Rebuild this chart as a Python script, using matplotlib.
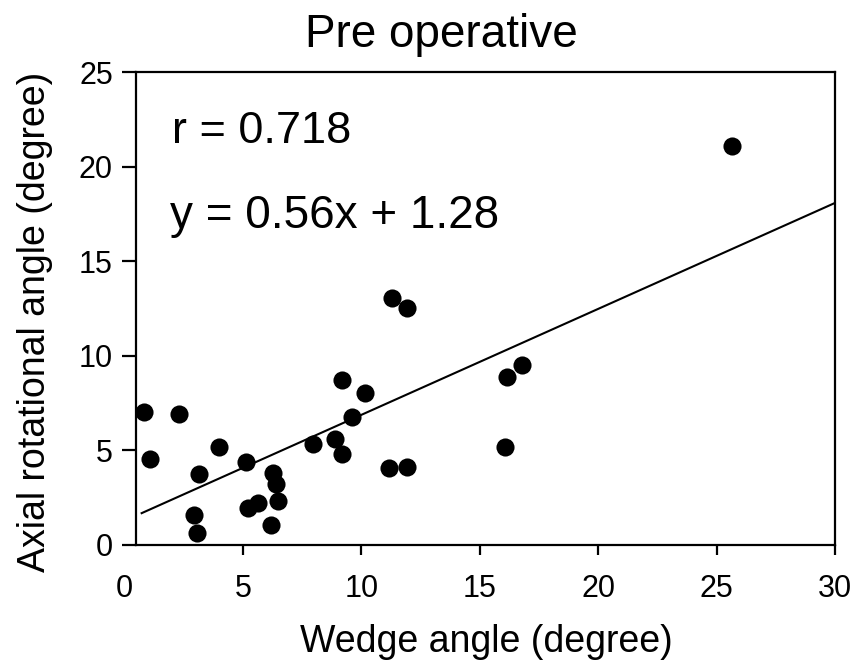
import numpy as np
import matplotlib.pyplot as plt

plt.rcParams['font.family'] = ['Liberation Sans', 'DejaVu Sans']

#- wedge angle vs axial rotational angle, pre operative
wedge = [0.82, 2.31, 3.97, 1.07, 5.13, 3.14, 6.28, 6.38, 6.48, 5.21, 5.65, 2.93, 3.04, 6.17,
         11.28, 11.91, 9.19, 10.14, 9.60, 7.94, 8.88, 9.19, 11.17, 11.91, 16.06, 16.16, 16.79, 25.65]
axial = [7.01, 6.91, 5.20, 4.55, 4.40, 3.75, 3.79, 3.21, 2.34, 1.94, 2.20, 1.59, 0.62, 1.06,
         13.04, 12.51, 8.72, 8.05, 6.77, 5.34, 5.60, 4.79, 4.05, 4.14, 5.20, 8.86, 9.50, 21.1]
slope = 0.56
intercept = 1.28
fit_x = [0.72, 30]

W, H = 862, 667
fig = plt.figure(figsize=(W / 100, H / 100), dpi=100)
ax = fig.add_axes([124.6 / W, 1 - 545 / H, 710.4 / W, 473 / H])

ax.scatter(wedge, axial, s=170, color='black', zorder=3, linewidths=0)
fx = np.array(fit_x)
ax.plot(fx, slope * fx + intercept, color='black', lw=1.5)

ax.set_xlim(0, 30)
ax.set_ylim(0, 25)
ax.set_xticks(np.arange(0, 31, 5))
ax.set_yticks(np.arange(0, 26, 5))
ax.spines['left'].set_position(('data', 0.5))
ax.spines['top'].set_bounds(0.5, 30)
ax.spines['bottom'].set_bounds(0.5, 30)
for s in ax.spines.values():
    s.set_linewidth(1.6)
ax.tick_params(axis='x', direction='out', length=7, width=1.6, labelsize=22, pad=14)
ax.tick_params(axis='y', direction='out', length=10, width=1.6, labelsize=22, pad=7)
ax.xaxis.get_major_ticks()[0].tick1line.set_visible(False)

ax.text(1.99, 21.25, 'r = 0.718', fontsize=32.5, va='baseline', ha='left')
ax.text(1.92, 16.75, 'y = 0.56x + 1.28', fontsize=33, va='baseline', ha='left')

fig.text(300 / W, 1 - 652 / H, 'Wedge angle (degree)', fontsize=27, ha='left', va='baseline')
fig.text(45 / W, 1 - 572 / H, 'Axial rotational angle (degree)', fontsize=27,
         ha='left', va='baseline', rotation=90, rotation_mode='anchor')
fig.text(305 / W, 1 - 47 / H, 'Pre operative', fontsize=33, ha='left', va='baseline')

plt.savefig('out.png', dpi=100)
